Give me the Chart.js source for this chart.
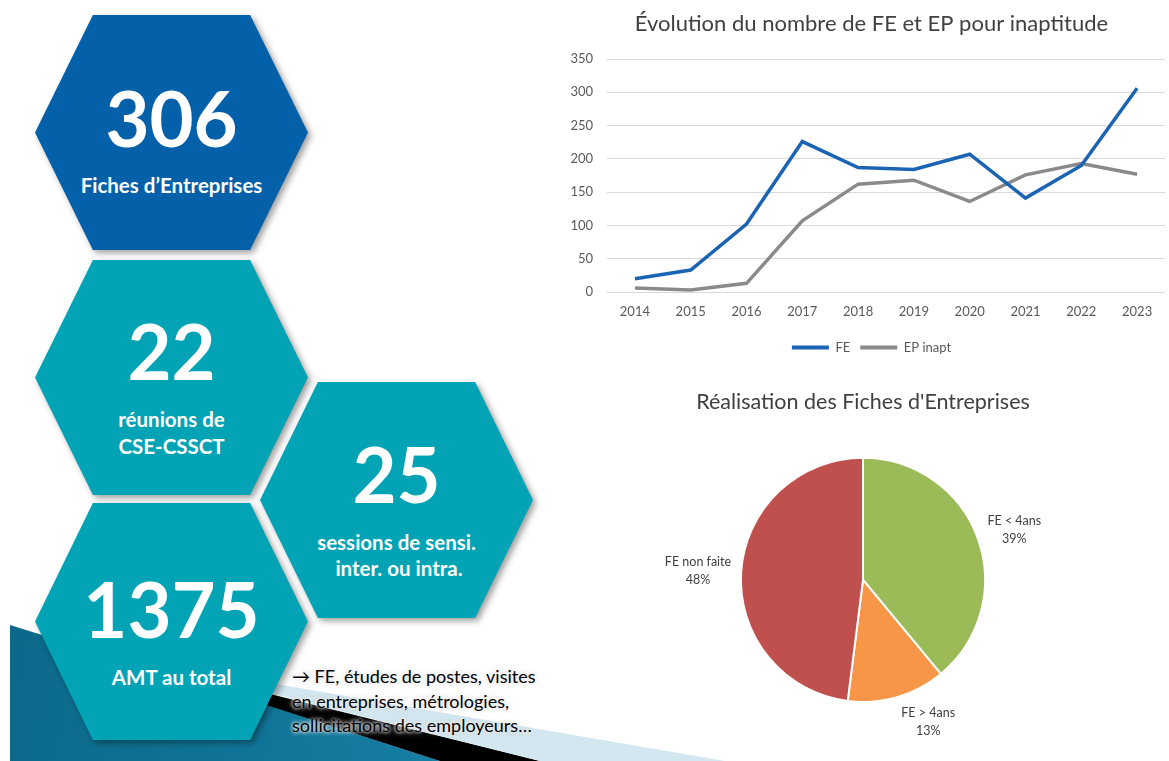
<!DOCTYPE html>
<html>
<head>
<meta charset="utf-8">
<script src="https://cdn.jsdelivr.net/npm/chart.js@4.4.1/dist/chart.umd.min.js"></script>
<style>
  html, body { margin:0; padding:0; background:#fff; }
  body { width:1169px; height:761px; position:relative; overflow:hidden; font-family: Lato, "Open Sans", sans-serif; }
  .abs { position:absolute; }
  .shape { position:absolute; left:0; top:0; width:1169px; height:761px; }
  .hexwrap { position:absolute; filter: drop-shadow(3px 3px 3px rgba(0,0,0,0.38)); }
  .hex { width:100%; height:100%; clip-path: polygon(21.2% 0, 78.8% 0, 100% 50%, 78.8% 100%, 21.2% 100%, 0 50%); }
  .t { position:absolute; color:#fff; font-weight:700; text-align:center; white-space:nowrap; }
  .note { position:absolute; left:292px; top:664px; font-size:18px; line-height:24.5px; color:#000; white-space:nowrap;
          text-shadow: 0 0 3px rgba(255,255,255,0.9), 0 0 4px rgba(230,230,230,0.9), 0 0 6px rgba(200,200,200,0.8); }
</style>
</head>
<body>
<!-- decorative background bands -->
<div class="shape" style="background:linear-gradient(100deg,#0a6383 0%,#12789c 35%,#2a97c2 75%,#4cb0d8 100%); clip-path:polygon(10px 625px, 273px 707px, 440px 761px, 10px 761px);"></div>
<div class="shape" style="background:#000; clip-path:polygon(266px 693px, 540px 761px, 440px 761px, 266px 705px);"></div>
<div class="shape" style="background:#d3e7f0; clip-path:polygon(276px 684px, 725px 761px, 540px 761px, 274px 694px);"></div>

<!-- hexagons -->
<div class="hexwrap" style="left:35px;top:15px;width:273px;height:235px;"><div class="hex" style="background:#0560aa;"></div></div>
<div class="hexwrap" style="left:35px;top:260px;width:273px;height:235px;"><div class="hex" style="background:#02a3b4;"></div></div>
<div class="hexwrap" style="left:35px;top:503px;width:273px;height:237px;"><div class="hex" style="background:#02a3b4;"></div></div>
<div class="hexwrap" style="left:260px;top:382px;width:273px;height:236px;"><div class="hex" style="background:#02a3b4;"></div></div>

<div id="texts"></div>
<div class="note">→ FE, études de postes, visites<br>en entreprises, métrologies,<br>sollicitations des employeurs…</div>

<div class="abs" style="left:560px;top:0px;width:609px;height:364px;"><canvas id="line" width="609" height="364"></canvas></div>
<div class="abs" style="left:620px;top:380px;width:486px;height:381px;"><canvas id="pie" width="486" height="381"></canvas></div>

<script>
// ---- data ----
const years = ['2014','2015','2016','2017','2018','2019','2020','2021','2022','2023'];
const feValues = [20, 33, 102, 226, 187, 184, 207, 141, 190, 306];
const epValues = [6, 3, 13, 107, 162, 168, 136, 176, 193, 177];
const yTicks = [0, 50, 100, 150, 200, 250, 300, 350];
const pieLabels = ['FE < 4ans', 'FE > 4ans', 'FE non faite'];
const pieValues = [39, 13, 48];
const kpiNumbers = ['306', '22', '25', '1375'];
const kpiCaptions = [['Fiches d\u2019Entreprises'], ['réunions de', 'CSE-CSSCT'], ['sessions de sensi.', ' inter. ou intra.'], ['AMT au total']];

// ---- hexagon texts ----
const textLayout = [
  {cx:171.5, ny:120, cy:[186]},
  {cx:171.5, ny:353, cy:[420, 447]},
  {cx:396.5, ny:476, cy:[543, 569]},
  {cx:171.5, ny:611, cy:[678]}
];
const holder = document.getElementById('texts');
[0,1,2,3].forEach(i => {
  const L = textLayout[i];
  const F = 76;
  const n = document.createElement('div');
  n.className = 't';
  n.style.cssText = `left:${L.cx-200}px;width:400px;top:${L.ny-0.53*F}px;font-size:${F}px;line-height:${F}px;`;
  n.textContent = kpiNumbers[i];
  holder.appendChild(n);
  kpiCaptions[i].forEach((c, j) => {
    const f = 20.5;
    const d = document.createElement('div');
    d.className = 't';
    d.style.cssText = `left:${L.cx-200}px;width:400px;top:${L.cy[j]-0.53*f}px;font-size:${f}px;line-height:${f}px;white-space:pre;`;
    d.textContent = c;
    holder.appendChild(d);
  });
});

Chart.defaults.font.family = 'Lato, "Open Sans", sans-serif';
Chart.defaults.animation = false;

// shift title and legend slightly right (centered over the plot like the original)
const shiftBlocks = {
  id: 'shiftBlocks',
  afterLayout(chart) {
    [chart.legend, chart.titleBlock].forEach(b => { if (b) { b.left += 18; } });
  }
};

// ---- line chart ----
const feColor = '#1b64b3';
const epColor = '#8a8a8a';
new Chart(document.getElementById('line'), {
  type: 'line',
  data: {
    labels: years,
    datasets: [
      {label:'FE', data: feValues, borderColor: feColor, backgroundColor: feColor, borderWidth: 3.5, pointRadius: 0, tension: 0},
      {label:'EP inapt', data: epValues, borderColor: epColor, backgroundColor: epColor, borderWidth: 3.5, pointRadius: 0, tension: 0}
    ]
  },
  options: {
    responsive: false,
    layout: {padding: {left: 0, right: 4, top: 0, bottom: 0}},
    plugins: {
      title: {display: true, text: 'Évolution du nombre de FE et EP pour inaptitude', color: '#404040',
              font: {size: 22, weight: 'normal'}, padding: {top: 11, bottom: 21.6}},
      legend: {position: 'bottom', labels: {boxWidth: 37, boxHeight: 4, padding: 10, color: '#595959', font: {size: 13},
        generateLabels: (chart) => Chart.defaults.plugins.legend.labels.generateLabels(chart).map(l => Object.assign(l, {lineWidth: 0}))}},
      tooltip: {enabled: false}
    },
    scales: {
      x: {offset: true, grid: {display: false, drawTicks: false}, border: {display: false},
          ticks: {color: '#595959', font: {size: 13}, padding: 12},
          afterFit: s => { s.height = 39; }},
      y: {min: 0, max: 350, border: {display: false},
          grid: {color: '#d9d9d9', drawTicks: false, lineWidth: 1},
          afterBuildTicks: s => { s.ticks = yTicks.map(v => ({value: v})); },
          ticks: {color: '#595959', font: {size: 13}, padding: 14},
          afterFit: s => { s.width = 47; }}
    }
  },
  plugins: [shiftBlocks]
});

// ---- pie chart ----
const pieLabelPlugin = {
  id: 'pieLabels',
  afterDatasetsDraw(chart) {
    const ctx = chart.ctx;
    const meta = chart.getDatasetMeta(0);
    const total = pieValues.reduce((a, b) => a + b, 0);
    ctx.save();
    ctx.font = '12.5px Lato, "Open Sans", sans-serif';
    ctx.fillStyle = '#404040';
    ctx.textAlign = 'center';
    ctx.textBaseline = 'middle';
    meta.data.forEach((arc, i) => {
      const p = arc.getProps(['x','y','startAngle','endAngle','outerRadius'], true);
      const mid = (p.startAngle + p.endAngle) / 2;
      const dx = Math.cos(mid), dy = Math.sin(mid);
      const r = p.outerRadius + 8;
      const l1 = pieLabels[i];
      const l2 = Math.round(pieValues[i] / total * 100) + '%';
      const w = Math.max(ctx.measureText(l1).width, ctx.measureText(l2).width) + 4;
      const h = 36;
      const cx = p.x + dx * r + Math.sign(dx) * w / 2;
      const cy = p.y + dy * r + dy * h / 2;
      ctx.fillText(l1, cx, cy - 9);
      ctx.fillText(l2, cx, cy + 9);
    });
    ctx.restore();
  }
};
new Chart(document.getElementById('pie'), {
  type: 'pie',
  data: {
    labels: pieLabels,
    datasets: [{data: pieValues, backgroundColor: ['#9bbb59', '#f79646', '#c0504d'], borderColor: '#ffffff', borderWidth: 2}]
  },
  options: {
    responsive: false,
    layout: {padding: {top: 0, bottom: 58, left: 0, right: 0}},
    plugins: {
      title: {display: true, text: 'Réalisation des Fiches d\'Entreprises', color: '#404040',
              font: {size: 21.5, weight: 'normal'}, padding: {top: 9, bottom: 42}},
      legend: {display: false},
      tooltip: {enabled: false}
    }
  },
  plugins: [pieLabelPlugin]
});
</script>
</body>
</html>
